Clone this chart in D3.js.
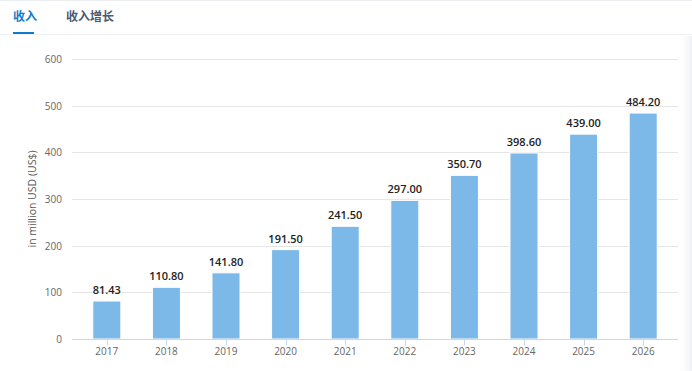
<!DOCTYPE html>
<html lang="zh">
<head>
<meta charset="utf-8">
<title>收入</title>
<script src="https://d3js.org/d3.v7.min.js"></script>
<style>
  body { margin: 0; background: #fff; }
  svg { display: block; }
</style>
</head>
<body>
<script>
"use strict";

// data
const years = ["2017", "2018", "2019", "2020", "2021", "2022", "2023", "2024", "2025", "2026"];
const revenue = [81.43, 110.80, 141.80, 191.50, 241.50, 297.00, 350.70, 398.60, 439.00, 484.20];
const yTicks = [0, 100, 200, 300, 400, 500, 600];
const tabs = ["收入", "收入增长"];

const w = 692, h = 371;
const font = "'Open Sans', 'Noto Sans CJK SC', sans-serif";

const svg = d3.select("body").append("svg")
    .attr("width", w)
    .attr("height", h);

// right edge shadow
const defs = svg.append("defs");
const grad = defs.append("linearGradient").attr("id", "edge").attr("x1", 0).attr("x2", 1);
grad.append("stop").attr("offset", "0%").attr("stop-color", "#fff").attr("stop-opacity", 0);
grad.append("stop").attr("offset", "100%").attr("stop-color", "#eef0f4").attr("stop-opacity", 1);
svg.append("rect").attr("x", 678).attr("y", 36).attr("width", 14).attr("height", h - 36)
    .attr("fill", "url(#edge)");

// tabs
svg.append("line").attr("x1", 0).attr("x2", w).attr("y1", 0.5).attr("y2", 0.5)
    .attr("stroke", "#eceef2");
svg.append("line").attr("x1", 0).attr("x2", w).attr("y1", 34.5).attr("y2", 34.5)
    .attr("stroke", "#eef0f3");
const tabX = [13, 66];
svg.selectAll(".tab")
    .data(tabs)
    .enter()
    .append("text")
    .attr("class", "tab")
    .attr("x", (d, i) => tabX[i])
    .attr("y", 21)
    .style("font", "bold 12px 'Noto Sans CJK SC', sans-serif")
    .attr("fill", (d, i) => i === 0 ? "#0e7bcc" : "#4a5a6e")
    .text(d => d);
svg.append("rect").attr("x", 13).attr("y", 32).attr("width", 21).attr("height", 2)
    .attr("fill", "#0e7bcc");

// scales
const x = d3.scaleBand().domain(years).range([77, 673]).paddingInner(0.53).paddingOuter(0.265);
const y = d3.scaleLinear().domain([0, 600]).range([339, 59]);

// grid
svg.append("g")
    .selectAll("line")
    .data(yTicks.filter(d => d > 0))
    .enter()
    .append("line")
    .attr("x1", 72).attr("x2", 678)
    .attr("y1", d => Math.round(y(d)) + 0.5)
    .attr("y2", d => Math.round(y(d)) + 0.5)
    .attr("stroke", "#e6e6e6");

// y axis labels
svg.append("g")
    .selectAll("text")
    .data(yTicks)
    .enter()
    .append("text")
    .attr("x", 62)
    .attr("y", d => y(d) + 4)
    .attr("text-anchor", "end")
    .style("font", "10px " + font)
    .attr("fill", "#666")
    .text(d => d);

svg.append("text")
    .attr("transform", "translate(36," + y(300) + ") rotate(-90)")
    .attr("text-anchor", "middle")
    .style("font", "10.5px " + font)
    .attr("fill", "#555")
    .text("in million USD (US$)");

// bars
svg.append("g")
    .selectAll("rect")
    .data(revenue)
    .enter()
    .append("rect")
    .attr("x", (d, i) => x(years[i]))
    .attr("y", d => y(d))
    .attr("width", x.bandwidth())
    .attr("height", d => y(0) - y(d))
    .attr("fill", "#7cb9e8")
    .attr("stroke", "#fff")
    .attr("stroke-width", 1);

// value labels
svg.append("g")
    .selectAll("text")
    .data(revenue)
    .enter()
    .append("text")
    .attr("x", (d, i) => x(years[i]) + x.bandwidth() / 2)
    .attr("y", d => y(d) - 7)
    .attr("text-anchor", "middle")
    .style("font", "600 11px " + font)
    .attr("fill", "#222")
    .text(d => d.toFixed(2));

// x axis
const xc = d3.scaleBand().domain(years).range([77, 673]);
const xAxis = svg.append("g")
    .attr("transform", "translate(0," + (y(0) + 0.5) + ")");
xAxis.append("line").attr("x1", 72).attr("x2", 678).attr("stroke", "#ccd6eb");
xAxis.selectAll(".tick")
    .data(years)
    .enter()
    .append("line")
    .attr("x1", d => Math.round(xc(d) + xc.bandwidth() / 2) + 0.5)
    .attr("x2", d => Math.round(xc(d) + xc.bandwidth() / 2) + 0.5)
    .attr("y1", 0).attr("y2", 6)
    .attr("stroke", "#ccd6eb");
xAxis.selectAll("text")
    .data(years)
    .enter()
    .append("text")
    .attr("x", d => xc(d) + xc.bandwidth() / 2)
    .attr("y", 15)
    .attr("text-anchor", "middle")
    .style("font", "10px " + font)
    .attr("fill", "#666")
    .text(d => d);
</script>
</body>
</html>
